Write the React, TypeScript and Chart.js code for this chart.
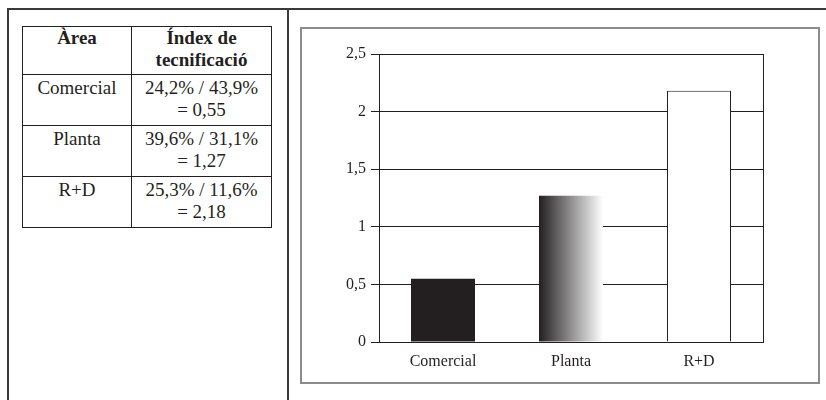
import React, { useEffect, useRef } from "react";
import { Chart, registerables } from "chart.js";

Chart.register(...registerables);

// Areas and their technification index (share of tech staff / share of total staff)
const areas = ["Comercial", "Planta", "R+D"];
const techShare = [24.2, 39.6, 25.3];
const staffShare = [43.9, 31.1, 11.6];
const indexValues = [0.55, 1.27, 2.18];
const yTicks = [0, 0.5, 1, 1.5, 2, 2.5];

const INK = "#231f20";
const FONT = "'Liberation Serif', 'Times New Roman', serif";
const BAR_SHARE = 0.5;

const fmt = (v: number, digits?: number) =>
  (digits === undefined ? String(v) : v.toFixed(digits)).replace(".", ",");

// Solid, left-to-right fade, and hollow fills for the three bars
function barFill(ctx: any) {
  const chart = ctx.chart;
  const i = ctx.dataIndex;
  if (i === 0) return INK;
  if (i === 2) return "#ffffff";
  const xs = chart.scales?.x;
  if (!xs || !chart.chartArea) return "#888888";
  const center = xs.getPixelForValue(i);
  const half = ((xs.width / areas.length) * BAR_SHARE) / 2;
  const g = chart.ctx.createLinearGradient(center - half, 0, center + half, 0);
  g.addColorStop(0, INK);
  g.addColorStop(1, "#ffffff");
  return g;
}

// Closes the plot frame on its right-hand side
const frameRight = {
  id: "frameRight",
  beforeDatasetsDraw(chart: any) {
    const { ctx, chartArea } = chart;
    const x = Math.round(chartArea.right) + 0.5;
    ctx.save();
    ctx.strokeStyle = INK;
    ctx.lineWidth = 1;
    ctx.beginPath();
    ctx.moveTo(x, Math.round(chartArea.top));
    ctx.lineTo(x, Math.round(chartArea.bottom) + 1);
    ctx.stroke();
    ctx.restore();
  },
};

function IndexChart() {
  const ref = useRef<HTMLCanvasElement | null>(null);
  useEffect(() => {
    if (!ref.current) return;
    const chart = new Chart(ref.current, {
      type: "bar",
      data: {
        labels: areas,
        datasets: [
          {
            data: indexValues,
            backgroundColor: barFill as any,
            borderColor: INK,
            borderWidth: ((c: any) => (c.dataIndex === 2 ? 1 : 0)) as any,
            borderSkipped: "start",
            categoryPercentage: BAR_SHARE,
            barPercentage: 1,
          },
        ],
      },
      options: {
        animation: false,
        responsive: false,
        maintainAspectRatio: false,
        layout: { padding: { left: 0, top: 27, right: 57, bottom: 0 } },
        plugins: { legend: { display: false }, tooltip: { enabled: false } },
        scales: {
          x: {
            grid: { display: false, drawTicks: false },
            border: { color: INK, width: 1 },
            ticks: { color: INK, font: { family: FONT, size: 16 }, padding: 10 },
            afterFit: (s: any) => {
              s.height = 42;
            },
          },
          y: {
            min: 0,
            max: 2.5,
            afterBuildTicks: (s: any) => {
              s.ticks = yTicks.map((v) => ({ value: v }));
            },
            grid: { color: INK, lineWidth: 1, tickLength: 8, drawTicks: true },
            border: { color: INK, width: 1 },
            ticks: {
              color: INK,
              font: { family: FONT, size: 16 },
              padding: 5,
              callback: (v: any) => fmt(Number(v)),
            },
            afterFit: (s: any) => {
              s.width = 79;
            },
          },
        },
      },
      plugins: [frameRight],
    });
    return () => chart.destroy();
  }, []);
  return (
    <canvas
      ref={ref}
      width={520}
      height={357}
      style={{ position: "absolute", left: 300, top: 27, width: 520, height: 357 }}
    />
  );
}

const cell: React.CSSProperties = {
  border: `1px solid ${INK}`,
  padding: "0 3px",
  textAlign: "center",
  verticalAlign: "top",
};

const bodyCell: React.CSSProperties = { ...cell, paddingTop: 2 };

export default function App() {
  const rule = "#3a3a3a";
  return (
    <div>
      {/* outer layout rules */}
      <div style={{ position: "absolute", left: 7, top: 8, width: 819, height: 2, background: rule }} />
      <div style={{ position: "absolute", left: 7, top: 8, width: 2, height: 392, background: rule }} />
      <div style={{ position: "absolute", left: 287, top: 8, width: 2, height: 392, background: rule }} />

      <table
        style={{
          position: "absolute",
          left: 22,
          top: 26,
          borderCollapse: "collapse",
          tableLayout: "fixed",
          width: 249,
          fontFamily: FONT,
          fontSize: 19,
          lineHeight: "22px",
          color: INK,
        }}
      >
        <colgroup>
          <col style={{ width: 109 }} />
          <col style={{ width: 140 }} />
        </colgroup>
        <thead>
          <tr style={{ height: 48 }}>
            <th style={cell}>Àrea</th>
            <th style={cell}>
              Índex de
              <br />
              tecnificació
            </th>
          </tr>
        </thead>
        <tbody>
          {areas.map((a, i) => (
            <tr key={a} style={{ height: 51 }}>
              <td style={bodyCell}>{a}</td>
              <td style={bodyCell}>
                {fmt(techShare[i])}% / {fmt(staffShare[i])}%
                <br />= {fmt(indexValues[i], 2)}
              </td>
            </tr>
          ))}
        </tbody>
      </table>

      <IndexChart />
      {/* chart panel border */}
      <div
        style={{
          position: "absolute",
          left: 300,
          top: 27,
          width: 520,
          height: 357,
          boxSizing: "border-box",
          border: "2px solid #8c8c8c",
          pointerEvents: "none",
        }}
      />
    </div>
  );
}
